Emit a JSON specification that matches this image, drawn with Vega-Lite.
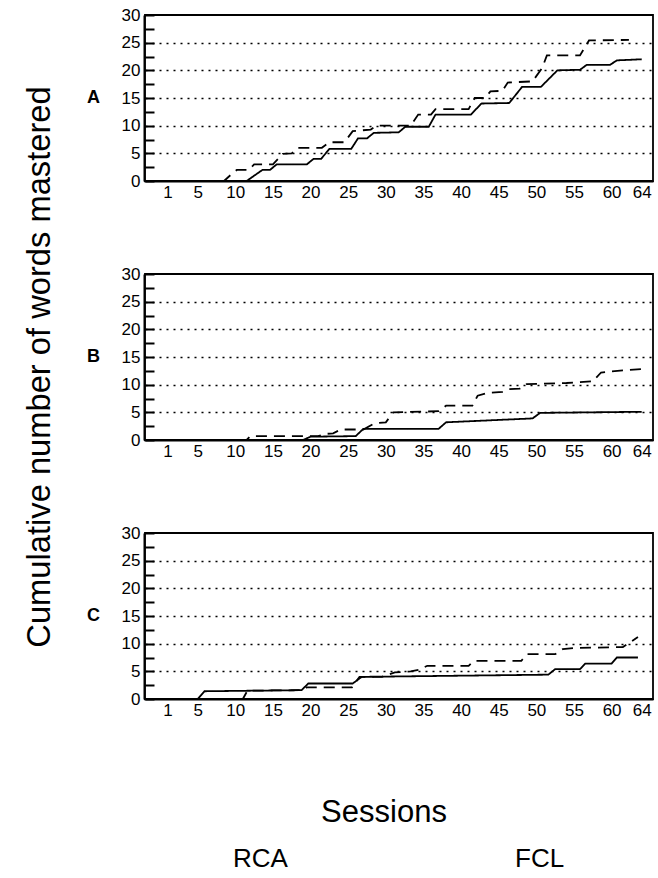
{
  "$schema": "https://vega.github.io/schema/vega-lite/v6.json",
  "padding": {"left": 24, "top": 6, "right": 0, "bottom": 0},
  "config": {
    "font": "Liberation Sans",
    "view": {"stroke": "black", "strokeWidth": 1.8},
    "axis": {"labelFont": "Liberation Sans", "labelColor": "black", "domainColor": "black", "domainWidth": 2}
  },
  "data": {
    "values": [
      {"panel": "A", "group": "RCA", "session": 1, "words": 0},
      {"panel": "A", "group": "RCA", "session": 11.5, "words": 0},
      {"panel": "A", "group": "RCA", "session": 13.6, "words": 2},
      {"panel": "A", "group": "RCA", "session": 14.6, "words": 2},
      {"panel": "A", "group": "RCA", "session": 15.5, "words": 3},
      {"panel": "A", "group": "RCA", "session": 19.5, "words": 3},
      {"panel": "A", "group": "RCA", "session": 20.4, "words": 4},
      {"panel": "A", "group": "RCA", "session": 21.4, "words": 4},
      {"panel": "A", "group": "RCA", "session": 22.5, "words": 5.8},
      {"panel": "A", "group": "RCA", "session": 25.4, "words": 5.8},
      {"panel": "A", "group": "RCA", "session": 26.3, "words": 7.7},
      {"panel": "A", "group": "RCA", "session": 27.5, "words": 7.7},
      {"panel": "A", "group": "RCA", "session": 28.4, "words": 8.7},
      {"panel": "A", "group": "RCA", "session": 31.7, "words": 8.8},
      {"panel": "A", "group": "RCA", "session": 32.6, "words": 9.8},
      {"panel": "A", "group": "RCA", "session": 35.7, "words": 9.8},
      {"panel": "A", "group": "RCA", "session": 36.6, "words": 12},
      {"panel": "A", "group": "RCA", "session": 41.3, "words": 12},
      {"panel": "A", "group": "RCA", "session": 42.7, "words": 14},
      {"panel": "A", "group": "RCA", "session": 46.4, "words": 14.1},
      {"panel": "A", "group": "RCA", "session": 48.1, "words": 17},
      {"panel": "A", "group": "RCA", "session": 50.6, "words": 17},
      {"panel": "A", "group": "RCA", "session": 52.8, "words": 20},
      {"panel": "A", "group": "RCA", "session": 55.8, "words": 20.1},
      {"panel": "A", "group": "RCA", "session": 56.7, "words": 21},
      {"panel": "A", "group": "RCA", "session": 59.8, "words": 21},
      {"panel": "A", "group": "RCA", "session": 60.7, "words": 21.8},
      {"panel": "A", "group": "RCA", "session": 64, "words": 22},
      {"panel": "A", "group": "FCL", "session": 1, "words": 0},
      {"panel": "A", "group": "FCL", "session": 8.5, "words": 0},
      {"panel": "A", "group": "FCL", "session": 9.3, "words": 1},
      {"panel": "A", "group": "FCL", "session": 10.2, "words": 2},
      {"panel": "A", "group": "FCL", "session": 11.8, "words": 2},
      {"panel": "A", "group": "FCL", "session": 12.5, "words": 3},
      {"panel": "A", "group": "FCL", "session": 15, "words": 3},
      {"panel": "A", "group": "FCL", "session": 16.3, "words": 4.9},
      {"panel": "A", "group": "FCL", "session": 17.5, "words": 5},
      {"panel": "A", "group": "FCL", "session": 18.3, "words": 6},
      {"panel": "A", "group": "FCL", "session": 21.5, "words": 6},
      {"panel": "A", "group": "FCL", "session": 22.5, "words": 7},
      {"panel": "A", "group": "FCL", "session": 24.5, "words": 7},
      {"panel": "A", "group": "FCL", "session": 25.6, "words": 9},
      {"panel": "A", "group": "FCL", "session": 28, "words": 9.3},
      {"panel": "A", "group": "FCL", "session": 28.8, "words": 10},
      {"panel": "A", "group": "FCL", "session": 33.3, "words": 10},
      {"panel": "A", "group": "FCL", "session": 34.3, "words": 12},
      {"panel": "A", "group": "FCL", "session": 36, "words": 12},
      {"panel": "A", "group": "FCL", "session": 36.6, "words": 13},
      {"panel": "A", "group": "FCL", "session": 41, "words": 13},
      {"panel": "A", "group": "FCL", "session": 41.8, "words": 15},
      {"panel": "A", "group": "FCL", "session": 43.2, "words": 15},
      {"panel": "A", "group": "FCL", "session": 43.9, "words": 16.2},
      {"panel": "A", "group": "FCL", "session": 45.5, "words": 16.3},
      {"panel": "A", "group": "FCL", "session": 46.2, "words": 17.8},
      {"panel": "A", "group": "FCL", "session": 49.5, "words": 18},
      {"panel": "A", "group": "FCL", "session": 50.8, "words": 20.5},
      {"panel": "A", "group": "FCL", "session": 51.4, "words": 22.7},
      {"panel": "A", "group": "FCL", "session": 55.8, "words": 22.7},
      {"panel": "A", "group": "FCL", "session": 57, "words": 25.4},
      {"panel": "A", "group": "FCL", "session": 62.3, "words": 25.5},
      {"panel": "B", "group": "RCA", "session": 1, "words": 0},
      {"panel": "B", "group": "RCA", "session": 19, "words": 0},
      {"panel": "B", "group": "RCA", "session": 20, "words": 0.6},
      {"panel": "B", "group": "RCA", "session": 26, "words": 0.7},
      {"panel": "B", "group": "RCA", "session": 27, "words": 2},
      {"panel": "B", "group": "RCA", "session": 37, "words": 2},
      {"panel": "B", "group": "RCA", "session": 38, "words": 3.2},
      {"panel": "B", "group": "RCA", "session": 49.5, "words": 3.9},
      {"panel": "B", "group": "RCA", "session": 50.5, "words": 4.9},
      {"panel": "B", "group": "RCA", "session": 64, "words": 5.1},
      {"panel": "B", "group": "FCL", "session": 1, "words": 0},
      {"panel": "B", "group": "FCL", "session": 11.5, "words": 0},
      {"panel": "B", "group": "FCL", "session": 12, "words": 0.7},
      {"panel": "B", "group": "FCL", "session": 21, "words": 0.7},
      {"panel": "B", "group": "FCL", "session": 22, "words": 1.1},
      {"panel": "B", "group": "FCL", "session": 23, "words": 1.2},
      {"panel": "B", "group": "FCL", "session": 24, "words": 1.9},
      {"panel": "B", "group": "FCL", "session": 27, "words": 1.9},
      {"panel": "B", "group": "FCL", "session": 28.5, "words": 3},
      {"panel": "B", "group": "FCL", "session": 30, "words": 3.2},
      {"panel": "B", "group": "FCL", "session": 31, "words": 5},
      {"panel": "B", "group": "FCL", "session": 37, "words": 5.2},
      {"panel": "B", "group": "FCL", "session": 38, "words": 6.2},
      {"panel": "B", "group": "FCL", "session": 41.5, "words": 6.2},
      {"panel": "B", "group": "FCL", "session": 42.2, "words": 8},
      {"panel": "B", "group": "FCL", "session": 43.5, "words": 8.5},
      {"panel": "B", "group": "FCL", "session": 45.5, "words": 8.7},
      {"panel": "B", "group": "FCL", "session": 46.4, "words": 9.2},
      {"panel": "B", "group": "FCL", "session": 47.8, "words": 9.3},
      {"panel": "B", "group": "FCL", "session": 48.7, "words": 10.1},
      {"panel": "B", "group": "FCL", "session": 54, "words": 10.3},
      {"panel": "B", "group": "FCL", "session": 57.5, "words": 10.6},
      {"panel": "B", "group": "FCL", "session": 58.6, "words": 12.2},
      {"panel": "B", "group": "FCL", "session": 61.5, "words": 12.6},
      {"panel": "B", "group": "FCL", "session": 64, "words": 12.8},
      {"panel": "C", "group": "RCA", "session": 1, "words": 0},
      {"panel": "C", "group": "RCA", "session": 5, "words": 0},
      {"panel": "C", "group": "RCA", "session": 5.9, "words": 1.4},
      {"panel": "C", "group": "RCA", "session": 18.8, "words": 1.6},
      {"panel": "C", "group": "RCA", "session": 19.7, "words": 2.8},
      {"panel": "C", "group": "RCA", "session": 25.6, "words": 2.8},
      {"panel": "C", "group": "RCA", "session": 26.8, "words": 4},
      {"panel": "C", "group": "RCA", "session": 51.6, "words": 4.4},
      {"panel": "C", "group": "RCA", "session": 52.5, "words": 5.4},
      {"panel": "C", "group": "RCA", "session": 55.8, "words": 5.4},
      {"panel": "C", "group": "RCA", "session": 56.5, "words": 6.4},
      {"panel": "C", "group": "RCA", "session": 60, "words": 6.4},
      {"panel": "C", "group": "RCA", "session": 60.7, "words": 7.5},
      {"panel": "C", "group": "RCA", "session": 63.5, "words": 7.5},
      {"panel": "C", "group": "FCL", "session": 1, "words": 0},
      {"panel": "C", "group": "FCL", "session": 11, "words": 0},
      {"panel": "C", "group": "FCL", "session": 11.6, "words": 1.5},
      {"panel": "C", "group": "FCL", "session": 19, "words": 1.6},
      {"panel": "C", "group": "FCL", "session": 19.5, "words": 2.1},
      {"panel": "C", "group": "FCL", "session": 25.5, "words": 2.1},
      {"panel": "C", "group": "FCL", "session": 26.5, "words": 4},
      {"panel": "C", "group": "FCL", "session": 29.5, "words": 4},
      {"panel": "C", "group": "FCL", "session": 31.2, "words": 4.8},
      {"panel": "C", "group": "FCL", "session": 33.3, "words": 5},
      {"panel": "C", "group": "FCL", "session": 34.5, "words": 5.3},
      {"panel": "C", "group": "FCL", "session": 35.5, "words": 6},
      {"panel": "C", "group": "FCL", "session": 41, "words": 6},
      {"panel": "C", "group": "FCL", "session": 41.7, "words": 6.9},
      {"panel": "C", "group": "FCL", "session": 48, "words": 6.9},
      {"panel": "C", "group": "FCL", "session": 48.8, "words": 8.1},
      {"panel": "C", "group": "FCL", "session": 52.5, "words": 8.1},
      {"panel": "C", "group": "FCL", "session": 53.5, "words": 9},
      {"panel": "C", "group": "FCL", "session": 55, "words": 9.2},
      {"panel": "C", "group": "FCL", "session": 61.5, "words": 9.4},
      {"panel": "C", "group": "FCL", "session": 63.5, "words": 11.2}
    ]
  },
  "facet": {
    "row": {
      "field": "panel",
      "type": "nominal",
      "title": "Cumulative number of words mastered",
      "header": {
        "titleOrient": "left",
        "titleFontSize": 32.7,
        "titleFontWeight": "normal",
        "titleFont": "Liberation Sans",
        "titleColor": "black",
        "titlePadding": 20,
        "labelOrient": "left",
        "labelAngle": 0,
        "labelAlign": "right",
        "labelBaseline": "middle",
        "labelFontSize": 18,
        "labelFontWeight": "bold",
        "labelFont": "Liberation Sans",
        "labelColor": "black",
        "labelPadding": 8
      }
    }
  },
  "spacing": {"row": 72},
  "resolve": {"axis": {"x": "independent"}},
  "spec": {
    "width": 508,
    "height": 166,
    "mark": {"type": "line", "color": "black", "strokeWidth": 1.8},
    "encoding": {
      "x": {
        "field": "session",
        "type": "quantitative",
        "scale": {"domain": [-2, 65.5], "nice": false, "zero": false},
        "axis": {
          "title": null,
          "values": [1, 5, 10, 15, 20, 25, 30, 35, 40, 45, 50, 55, 60, 64],
          "ticks": false,
          "tickSize": 0,
          "grid": false,
          "labelFontSize": 17,
          "labelPadding": 3,
          "labelFlush": false
        }
      },
      "y": {
        "field": "words",
        "type": "quantitative",
        "scale": {"domain": [0, 30], "nice": false},
        "axis": {
          "title": null,
          "values": [0, 2.5, 5, 7.5, 10, 12.5, 15, 17.5, 20, 22.5, 25, 27.5, 30],
          "labelExpr": "datum.value % 5 === 0 ? datum.label : ''",
          "tickSize": -10,
          "tickColor": "black",
          "tickWidth": 2,
          "labelFontSize": 17,
          "labelPadding": 14,
          "grid": true,
          "gridColor": "black",
          "gridDash": [2, 5],
          "gridWidth": 1.3,
          "gridOpacity": {"condition": {"test": "datum.value % 5 === 0 && datum.value > 0 && datum.value < 30", "value": 1}, "value": 0}
        }
      },
      "strokeDash": {
        "field": "group",
        "type": "nominal",
        "scale": {"domain": ["RCA", "FCL"], "range": [[1, 0], [11, 7]]},
        "legend": {
          "orient": "none",
          "legendX": 58,
          "legendY": 783,
          "direction": "horizontal",
          "title": "Sessions",
          "titleFontSize": 31,
          "titleFontWeight": "normal",
          "titleFont": "Liberation Sans",
          "titleColor": "black",
          "titleAnchor": "middle",
          "titlePadding": 17,
          "labelFontSize": 26,
          "labelFont": "Liberation Sans",
          "labelColor": "black",
          "labelOffset": 4,
          "symbolOpacity": 0,
          "symbolSize": 100,
          "columnPadding": 197,
          "padding": 0
        }
      }
    }
  }
}
